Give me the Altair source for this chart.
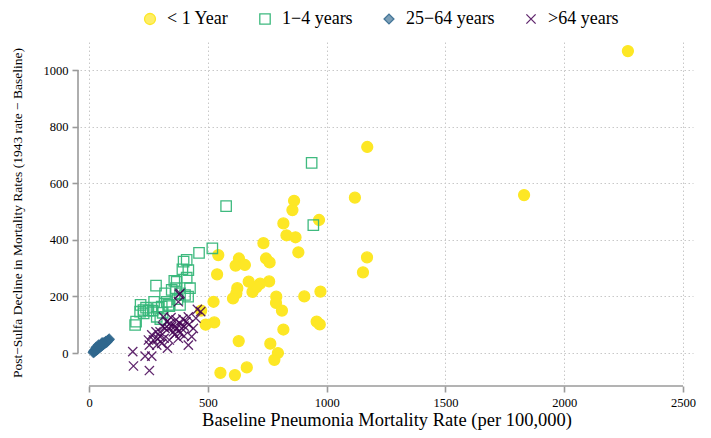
import altair as alt
import pandas as pd

groups = ["< 1 Year", "1\u22124 years", "25\u221264 years", ">64 years"]

infant_x = [2268, 1831, 1171, 1119, 863, 856, 818, 968, 831, 869,
            734, 881, 1170, 745, 760, 1153, 758, 720, 688, 705,
            974, 788, 906, 787, 812, 958, 971, 818, 763, 795,
            780, 544, 631, 617, 656, 539, 672, 624, 620, 606,
            524, 472, 527, 491, 630, 553, 614, 664]
infant_y = [1067, 558, 728, 549, 538, 505, 458, 470, 416, 409,
            388, 356, 338, 334, 320, 285, 253, 245, 216, 233,
            217, 199, 200, 177, 150, 111, 101, 83, 33, 0,
            -24, 346, 334, 309, 311, 278, 252, 229, 211, 193,
            181, 150, 108, 100, 42, -70, -78, -51]

child_x = [577, 937, 944, 519, 463, 411, 398, 418, 393, 411,
           425, 359, 369, 282, 348, 320, 366, 404, 383, 274,
           327, 383, 334, 306, 217, 229, 215, 268, 285, 310,
           338, 198, 194, 417, 250, 300, 240, 290, 372, 230]
child_y = [519, 672, 452, 370, 354, 329, 323, 293, 296, 266,
           229, 255, 252, 238, 223, 211, 229, 205, 211, 181,
           181, 170, 170, 164, 170, 152, 146, 150, 128, 142,
           166, 111, 99, 199, 150, 120, 160, 160, 190, 140]

adult_x = [18, 20, 22, 24, 25, 27, 28, 30, 31, 33,
           35, 36, 38, 40, 41, 43, 45, 47, 48, 50,
           52, 54, 56, 58, 60, 63, 66, 70, 74, 78,
           82, 85, 30, 40, 55]
adult_y = [2, 6, 4, 10, 7, 12, 9, 14, 11, 16,
           13, 19, 16, 21, 18, 24, 20, 26, 23, 28,
           25, 31, 29, 33, 30, 36, 34, 40, 38, 44,
           46, 49, 20, 28, 36]

elder_x = [383, 376, 456, 470, 450, 418, 408, 383, 366, 341,
           327, 313, 310, 334, 355, 383, 400, 432, 439, 418,
           376, 338, 330, 306, 299, 282, 264, 271, 250, 254,
           285, 299, 320, 348, 362, 369, 390, 316, 184, 236,
           264, 187, 254, 380, 400, 345, 420, 290, 360, 395]
elder_y = [211, 181, 154, 146, 123, 128, 111, 105, 117, 105,
           111, 128, 93, 87, 75, 70, 60, 58, 87, 28,
           52, 46, 17, 34, 58, 75, 64, 46, 46, 28,
           28, 75, 87, 93, 95, 87, 87, 52, 5, -11,
           -11, -46, -62, 207, 95, 125, 100, 50, 65, 120]

x_ticks = [0, 500, 1000, 1500, 2000, 2500]
y_ticks = [0, 200, 400, 600, 800, 1000]

x_title = "Baseline Pneumonia Mortality Rate (per 100,000)"
y_title = "Post\u2212Sulfa Decline in Mortality Rates (1943 rate \u2212 Baseline)"

rows = []
for g, xs, ys in zip(groups, [infant_x, child_x, adult_x, elder_x],
                     [infant_y, child_y, adult_y, elder_y]):
    for a, b in zip(xs, ys):
        rows.append({"group": g, "base": a, "decline": b})
df = pd.DataFrame(rows)

FONT = "Liberation Serif"
W, H = 613, 341

x_scale = alt.Scale(domain=[-38, 2542], nice=False, zero=False)
y_scale = alt.Scale(domain=[-106, 1099], nice=False, zero=False)

legend = alt.Legend(title=None, orient="none", legendX=61, legendY=-32,
                    direction="horizontal", columnPadding=27, labelFont=FONT,
                    labelFontSize=18, labelColor="black", labelOffset=8,
                    symbolStrokeWidth=1.3, padding=0)

cross_path = "M-1,-1L1,1M-1,1L1,-1"

points = alt.Chart(df).mark_point(strokeWidth=1.3, clip=False).encode(
    x=alt.X("base:Q", scale=x_scale, title=x_title,
            axis=alt.Axis(values=x_ticks, offset=3, format="d", labelFont=FONT,
                          titleFont=FONT)),
    y=alt.Y("decline:Q", scale=y_scale, title=y_title,
            axis=alt.Axis(values=y_ticks, offset=2, format="d", labelFont=FONT,
                          titleFont=FONT)),
    shape=alt.Shape("group:N", scale=alt.Scale(domain=groups,
                    range=["circle", "square", "diamond", cross_path]), legend=legend),
    fill=alt.Fill("group:N", scale=alt.Scale(domain=groups,
                  range=["#FDE725", "transparent", "#31688E", "transparent"]), legend=legend),
    stroke=alt.Stroke("group:N", scale=alt.Scale(domain=groups,
                      range=["#FDE725", "#35B779", "#31688E", "#440154"]), legend=legend),
    size=alt.Size("group:N", scale=alt.Scale(domain=groups, range=[120, 85, 144, 70]),
                  legend=legend),
    opacity=alt.Opacity("group:N", scale=alt.Scale(domain=groups, range=[1, 0.85, 1, 0.85]),
                        legend=legend),
)

xline = alt.Chart(pd.DataFrame({"lo": [x_ticks[0]], "hi": [x_ticks[-1]]})).mark_rule(
    color="#9a9a9a", strokeWidth=1.6).encode(
    x=alt.X("lo:Q", scale=x_scale, title=x_title), x2="hi:Q", y=alt.value(H + 3))

yline = alt.Chart(pd.DataFrame({"lo": [y_ticks[0]], "hi": [y_ticks[-1]]})).mark_rule(
    color="#9a9a9a", strokeWidth=1.6).encode(
    y=alt.Y("lo:Q", scale=y_scale, title=y_title), y2="hi:Q", x=alt.value(-2))

chart = alt.layer(points, xline, yline).properties(
    width=W, height=H,
    autosize=alt.AutoSizeParams(type="none"),
    padding={"left": 72, "top": 34, "right": 10, "bottom": 47},
).configure(
    font=FONT,
    style={"guide-label": {"font": FONT}, "guide-title": {"font": FONT}},
).configure_view(stroke=None).configure_legend(labelFont=FONT).configure_axis(
    domain=False,
    labelFont=FONT, labelFontSize=12.5, labelColor="black", labelPadding=4,
    titleFont=FONT, titleFontWeight="normal", titleColor="black",
    tickColor="#9a9a9a", tickWidth=1.6, tickSize=6,
    grid=True, gridColor="#c8c8c8", gridDash=[1.5, 2.5], gridWidth=1,
).configure_axisX(titleFontSize=18.5, titlePadding=2).configure_axisY(
    titleFontSize=13.5, titlePadding=19)

chart.save("out.html", embed_options={"renderer": "svg", "actions": False})
